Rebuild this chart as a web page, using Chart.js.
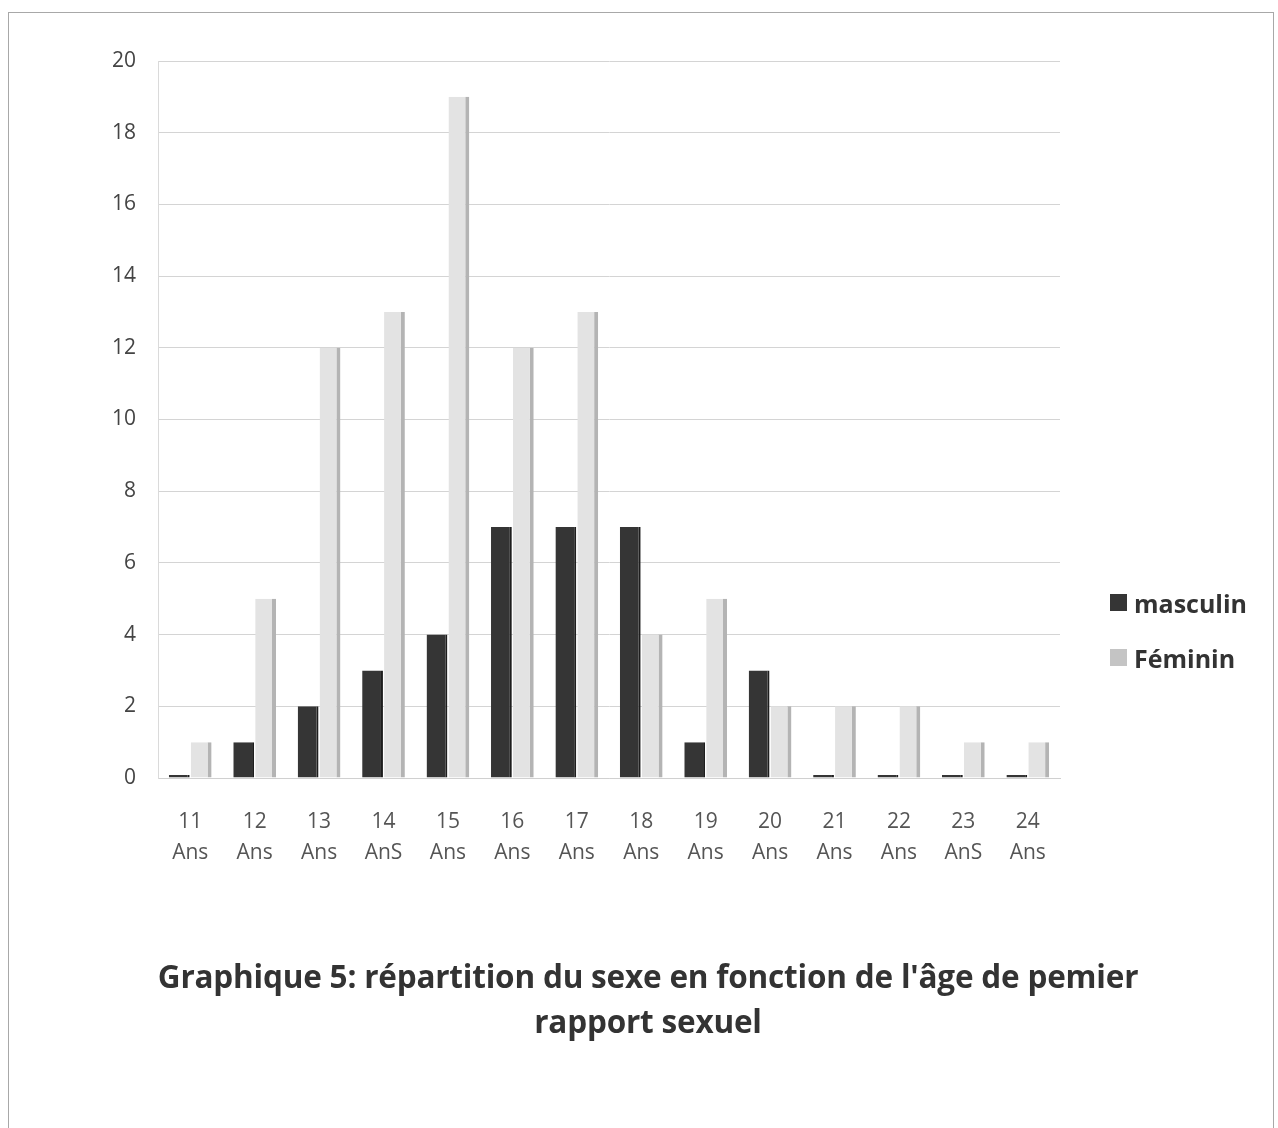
<!DOCTYPE html>
<html lang="fr">
  <head>
    <meta charset="UTF-8" />
    <title>Graphique 5</title>
    <script src="https://cdn.jsdelivr.net/npm/chart.js@4.4.1/dist/chart.umd.min.js"></script>
    <style>
      html, body {
        margin: 0;
        padding: 0;
        background: #ffffff;
      }
      .frame {
        position: absolute;
        left: 8px;
        top: 12px;
        width: 1266px;
        height: 1130px;
        border: 1px solid #a8a8a8;
        border-bottom: none;
        box-sizing: border-box;
      }
      .chart-box {
        position: absolute;
        left: 0;
        top: 0;
        width: 1278px;
        height: 1128px;
      }
      .legend {
        position: absolute;
        left: 1110px;
        top: 575px;
        font-family: "Open Sans", sans-serif;
        font-weight: bold;
        font-size: 25px;
        color: #333;
      }
      .legend div {
        height: 55px;
        display: flex;
        align-items: center;
      }
      .legend span.box {
        display: inline-block;
        width: 17px;
        height: 17px;
        margin-right: 7px;
      }
      .title {
        position: absolute;
        left: 0;
        width: 1296px;
        top: 953px;
        text-align: center;
        font-family: "Open Sans", sans-serif;
        font-weight: bold;
        font-size: 31.5px;
        line-height: 45px;
        color: #333;
        letter-spacing: -0.2px;
      }
    </style>
  </head>
  <body>
    <div class="frame"></div>
    <div class="chart-box">
      <canvas id="ageChart"></canvas>
    </div>
    <div class="legend" id="legend"></div>
    <div class="title" id="title"></div>

    <script>
      // categories (ages) and the two series
      const ages = ["11", "12", "13", "14", "15", "16", "17", "18", "19", "20", "21", "22", "23", "24"];
      const ansText = ["Ans", "Ans", "Ans", "AnS", "Ans", "Ans", "Ans", "Ans", "Ans", "Ans", "Ans", "Ans", "AnS", "Ans"];
      const masculin = [0, 1, 2, 3, 4, 7, 7, 7, 1, 3, 0, 0, 0, 0];
      const feminin = [1, 5, 12, 13, 19, 12, 13, 4, 5, 2, 2, 2, 1, 1];
      const yTicks = [0, 2, 4, 6, 8, 10, 12, 14, 16, 18, 20];

      const seriesNames = ["masculin", "Féminin"];
      const seriesColors = ["#353535", "#e3e3e3"];
      const titleLines = [
        "Graphique 5: répartition du sexe en fonction de l'âge de pemier",
        "rapport sexuel",
      ];

      const labels = ages.map((a, i) => [a, ansText[i]]);

      const ctx = document.getElementById("ageChart").getContext("2d");

      const ageChart = new Chart(ctx, {
        type: "bar",
        data: {
          labels: labels,
          datasets: [
            {
              label: seriesNames[0],
              data: masculin,
              backgroundColor: seriesColors[0],
              borderColor: "#1e1e1e",
              borderWidth: { right: 2, top: 0, left: 0, bottom: 0 },
              minBarLength: 3,
              categoryPercentage: 0.68,
              barPercentage: 0.95,
            },
            {
              label: seriesNames[1],
              data: feminin,
              backgroundColor: seriesColors[1],
              borderColor: "#b4b4b4",
              borderWidth: { right: 4, top: 0, left: 0, bottom: 0 },
              categoryPercentage: 0.68,
              barPercentage: 0.95,
            },
          ],
        },
        options: {
          responsive: true,
          maintainAspectRatio: false,
          animation: false,
          layout: {
            padding: { left: 90, right: 218, top: 61, bottom: 239 },
          },
          scales: {
            x: {
              grid: { display: false },
              border: { color: "#d0d0d0" },
              ticks: {
                color: "#555",
                padding: 20,
                font: { family: "Open Sans", size: 21, lineHeight: 1.5 },
                maxRotation: 0,
                autoSkip: false,
              },
            },
            y: {
              min: 0,
              max: 20,
              afterBuildTicks: (axis) => {
                axis.ticks = yTicks.map((v) => ({ value: v }));
              },
              grid: { color: "#d4d4d4", drawTicks: false },
              border: { color: "#dadada" },
              ticks: {
                color: "#444",
                padding: 22,
                font: { family: "Open Sans", size: 21 },
              },
            },
          },
          plugins: {
            legend: { display: false },
            tooltip: { enabled: false },
          },
        },
      });

      // legend drawn next to the chart, built from the dataset names
      const legendEl = document.getElementById("legend");
      ageChart.data.datasets.forEach((ds) => {
        const row = document.createElement("div");
        const box = document.createElement("span");
        box.className = "box";
        box.style.background = ds.label === "Féminin" ? "#c4c4c4" : ds.backgroundColor;
        row.appendChild(box);
        row.appendChild(document.createTextNode(ds.label));
        legendEl.appendChild(row);
      });

      const titleEl = document.getElementById("title");
      titleLines.forEach((line) => {
        const d = document.createElement("div");
        d.textContent = line;
        titleEl.appendChild(d);
      });
    </script>
  </body>
</html>
